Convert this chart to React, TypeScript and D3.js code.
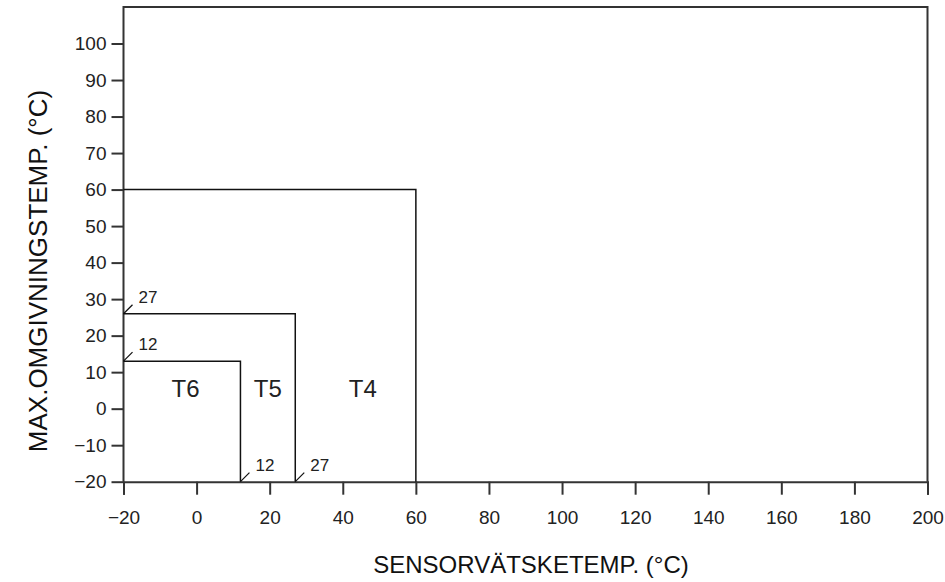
import React, { useEffect, useRef } from 'react';
import * as d3 from 'd3';

// axis ticks
const xTicks = [-20, 0, 20, 40, 60, 80, 100, 120, 140, 160, 180, 200];
const yTicks = [-20, -10, 0, 10, 20, 30, 40, 50, 60, 70, 80, 90, 100];

// temperature classes: max sensor temp (x) and max ambient temp (y)
const zoneNames = ['T6', 'T5', 'T4'];
const zoneSensorMax = [12, 27, 60];
const zoneAmbientMax = [13, 26, 60];
const zoneLabelX = [-3, 19.5, 45.5];

// small corner annotations
const noteLabels = ['27', '12', '12', '27'];
const noteX = [-20, -20, 12, 27];
const noteY = [26, 13, -20, -20];

const App = () => {
  const ref = useRef<SVGSVGElement>(null);

  useEffect(() => {
    const width = 945;
    const height = 582;
    const margin = { top: 7, right: 17.5, bottom: 100.3, left: 123.5 };

    const svg = d3.select(ref.current);
    svg.selectAll('*').remove();

    const x = d3.scaleLinear()
      .domain([-20, 200])
      .range([margin.left, width - margin.right]);
    const y = d3.scaleLinear()
      .domain([-20, 110])
      .range([height - margin.bottom, margin.top]);

    const ink = '#333';
    const font = "'Liberation Sans', Arial, sans-serif";
    const minus = (d: any) => String(d).replace('-', '\u2212');

    // frame: left, top, right (bottom drawn by the axis)
    svg.append('path')
      .attr('d', `M${x(-20)},${y(-20)}V${y(110)}H${x(200)}V${y(-20)}`)
      .attr('fill', 'none')
      .attr('stroke', ink)
      .attr('stroke-width', 2);

    // x axis
    const xAxis = svg.append('g')
      .attr('transform', `translate(0,${y(-20)})`)
      .call(d3.axisBottom(x).tickValues(xTicks).tickSize(13).tickPadding(16).tickFormat(minus));
    xAxis.select('.domain').attr('stroke', ink).attr('stroke-width', 2);
    xAxis.selectAll('.tick line').attr('stroke', ink).attr('stroke-width', 2);
    xAxis.selectAll('.tick text')
      .attr('font-family', font)
      .attr('font-size', 19)
      .attr('fill', '#222');

    // y axis
    const yAxis = svg.append('g')
      .attr('transform', `translate(${x(-20)},0)`)
      .call(d3.axisLeft(y).tickValues(yTicks).tickSize(12).tickPadding(5).tickFormat(minus));
    yAxis.select('.domain').remove();
    yAxis.selectAll('.tick line').attr('stroke', ink).attr('stroke-width', 2);
    yAxis.selectAll('.tick text')
      .attr('font-family', font)
      .attr('font-size', 19)
      .attr('fill', '#222');

    // zone boxes
    svg.selectAll('path.zone')
      .data(zoneNames)
      .enter().append('path')
      .attr('class', 'zone')
      .attr('d', (_, i) => `M${x(-20)},${y(zoneAmbientMax[i])}H${x(zoneSensorMax[i])}V${y(-20)}`)
      .attr('fill', 'none')
      .attr('stroke', '#111')
      .attr('stroke-width', 1.5);

    // zone labels
    svg.selectAll('text.zone')
      .data(zoneNames)
      .enter().append('text')
      .attr('class', 'zone')
      .attr('x', (_, i) => x(zoneLabelX[i]))
      .attr('y', 397)
      .attr('text-anchor', 'middle')
      .attr('font-family', font)
      .attr('font-size', 24)
      .attr('fill', '#222')
      .text(d => d);

    // annotations with leader lines
    const notes = svg.selectAll('g.note')
      .data(noteLabels)
      .enter().append('g')
      .attr('class', 'note')
      .attr('transform', (_, i) => `translate(${x(noteX[i])},${y(noteY[i])})`);
    notes.append('line')
      .attr('x1', 0).attr('y1', 0)
      .attr('x2', 9).attr('y2', -9)
      .attr('stroke', '#111')
      .attr('stroke-width', 1.2);
    notes.append('text')
      .attr('x', 15)
      .attr('y', -11)
      .attr('font-family', font)
      .attr('font-size', 17)
      .attr('fill', '#222')
      .text(d => d);

    // axis titles
    svg.append('text')
      .attr('x', 531)
      .attr('y', 573)
      .attr('text-anchor', 'middle')
      .attr('font-family', font)
      .attr('font-size', 24)
      .attr('fill', '#111')
      .text('SENSORVÄTSKETEMP. (°C)');

    svg.append('text')
      .attr('transform', `translate(46.5,271) rotate(-90)`)
      .attr('text-anchor', 'middle')
      .attr('font-family', font)
      .attr('font-size', 26)
      .attr('fill', '#111')
      .text('MAX.OMGIVNINGSTEMP. (°C)');
  }, []);

  return (
    <svg ref={ref} width={945} height={582} style={{ position: 'absolute', left: 0, top: 0, background: '#fff' }}></svg>
  );
};

export default App;
